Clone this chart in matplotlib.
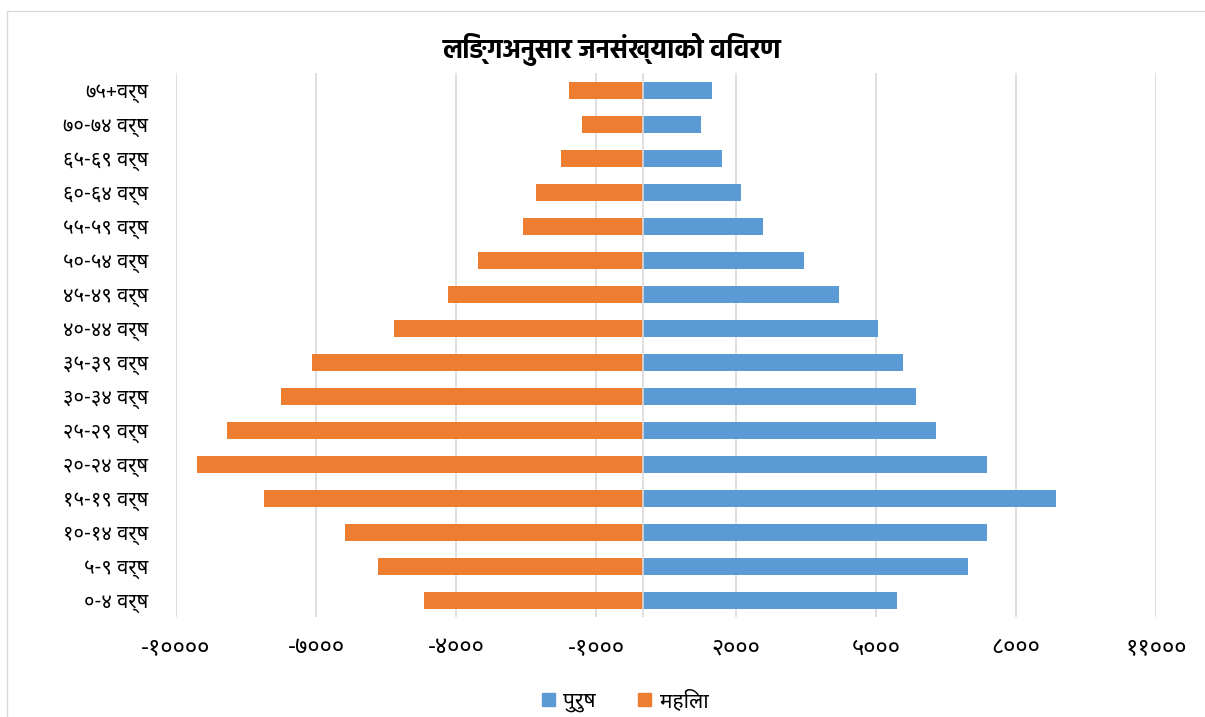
import matplotlib
matplotlib.use("Agg")
import matplotlib.pyplot as plt
from matplotlib import font_manager as fm
from matplotlib.patches import Patch, Rectangle
import numpy as np

# ---------------- data ----------------
categories = ["०-४ वर्ष", "५-९ वर्ष", "१०-१४ वर्ष", "१५-१९ वर्ष", "२०-२४ वर्ष",
              "२५-२९ वर्ष", "३०-३४ वर्ष", "३५-३९ वर्ष", "४०-४४ वर्ष", "४५-४९ वर्ष",
              "५०-५४ वर्ष", "५५-५९ वर्ष", "६०-६४ वर्ष", "६५-६९ वर्ष", "७०-७४ वर्ष",
              "७५+वर्ष"]
male = [5457, 6979, 7379, 8864, 7379, 6293, 5864, 5571, 5043, 4200,
        3450, 2571, 2107, 1707, 1243, 1485]
female = [4679, 5679, 6379, 8115, 9557, 8900, 7744, 7093, 5329, 4179,
          3523, 2565, 2280, 1744, 1294, 1586]
x_ticks = [-10000, -7000, -4000, -1000, 2000, 5000, 8000, 11000]
x_tick_labels = ["-१००००", "-७०००", "-४०००", "-१०००", "२०००", "५०००", "८०००", "११०००"]
title = "लिङ्गअनुसार जनसंख्याको विवरण"
legend_labels = ["पुरुष", "महिला"]

# ---------------- fonts ----------------
available = {f.name for f in fm.fontManager.ttflist}
bold_available = {f.name for f in fm.fontManager.ttflist
                  if isinstance(f.weight, int) and f.weight >= 600
                  or f.weight in ("bold", "semibold", "demibold", "heavy", "black", "extra bold")}

def pick(prefs, pool):
    fams = [p for p in prefs if p in pool]
    return fams[:1] + ["DejaVu Sans"]

label_font = pick(["Noto Sans Devanagari", "Hind", "Mukta", "Annapurna SIL", "FreeSans"], available)
title_font = pick(["Noto Sans Devanagari", "Hind", "Mukta", "Ek Mukta", "Biryani", "FreeSans"],
                  bold_available)

BLUE = "#5B9BD5"
ORANGE = "#ED7D31"
GRID = "#D9D9D9"

W, H = 1205, 717
fig = plt.figure(figsize=(W / 100, H / 100), dpi=100)

# chart area border (top + left visible)
fig.patches.append(Rectangle((7 / W, -0.1), 1.2, (H - 11) / H + 0.1,
                             transform=fig.transFigure, fill=False,
                             edgecolor=GRID, linewidth=1.0))

ax = fig.add_axes([176 / W, (H - 617) / H, 980 / W, 544 / H])
y = np.arange(len(categories))
ax.barh(y, male, height=0.5, color=BLUE, zorder=3)
ax.barh(y, [-v for v in female], height=0.5, color=ORANGE, zorder=3)

ax.set_xlim(-10000, 11000)
ax.set_ylim(-0.5, len(categories) - 0.5)
ax.set_xticks(x_ticks)
ax.set_xticklabels(x_tick_labels, fontfamily=label_font, fontsize=17)
ax.set_yticks(y)
ax.set_yticklabels(categories, fontfamily=label_font, fontsize=14.5)
ax.tick_params(axis="both", length=0)
ax.tick_params(axis="x", pad=14)
ax.tick_params(axis="y", pad=20)
ax.xaxis.grid(True, color=GRID, linewidth=1.2, zorder=0)
ax.set_axisbelow(True)
for s in ax.spines.values():
    s.set_visible(False)
ax.axvline(0, color=GRID, linewidth=1.2, zorder=4)

fig.text(0.508, 1 - 49 / H, title, ha="center", va="center",
         fontfamily=title_font, fontsize=19, fontweight="bold")

handles = [Patch(color=BLUE), Patch(color=ORANGE)]
fig.legend(handles, legend_labels, loc="center", bbox_to_anchor=(625 / W, 1 - 701 / H),
           ncol=2, frameon=False, prop={"family": label_font, "size": 15},
           handlelength=0.65, handleheight=0.65, columnspacing=2.0, handletextpad=0.4)

fig.savefig("out.png", dpi=100)
